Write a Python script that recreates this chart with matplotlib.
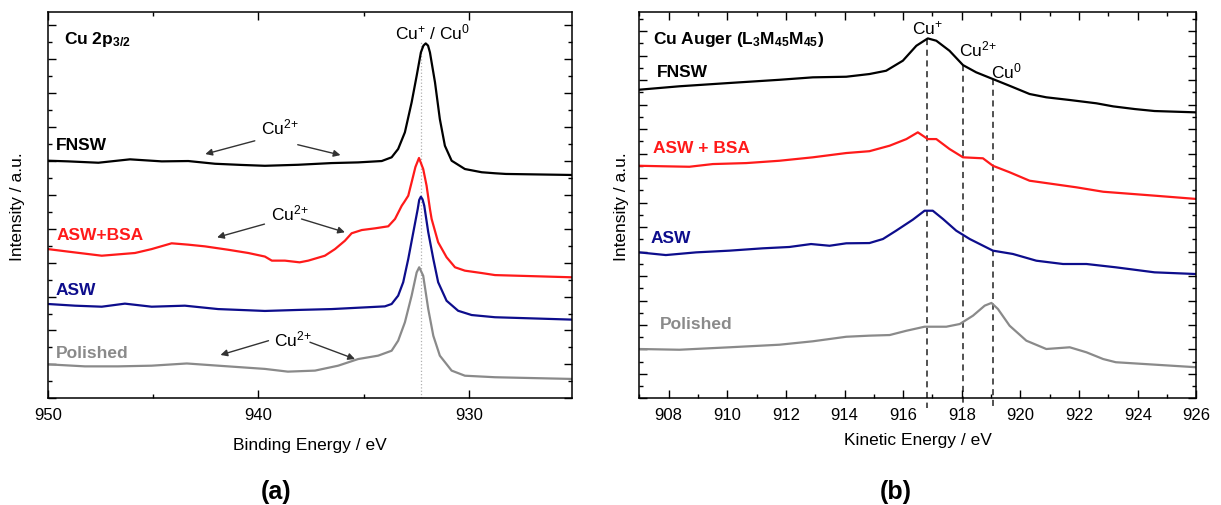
import matplotlib
matplotlib.use('Agg')
import numpy as np
import matplotlib.pyplot as plt
from matplotlib.ticker import MultipleLocator

plt.rcParams['font.family'] = ['Liberation Sans', 'DejaVu Sans']
plt.rcParams['mathtext.fontset'] = 'custom'
plt.rcParams['mathtext.rm'] = 'Liberation Sans'
plt.rcParams['mathtext.it'] = 'Liberation Sans:italic'
plt.rcParams['mathtext.bf'] = 'Liberation Sans:bold'

# ---------------- Panel (a): Cu 2p3/2, binding energy (eV) ----------------
be_fnsw = [950.0, 949.03, 947.6, 946.1, 944.59, 943.33, 942.06, 940.79, 939.69, 938.11,
           936.52, 935.26, 934.14, 933.67, 933.36, 933.04, 932.72, 932.48, 932.28, 932.16,
           932.05, 931.94, 931.85, 931.61, 931.38, 931.14, 930.82, 930.19, 929.39, 928.76,
           928.24, 925.1]
i_fnsw_a = [13.99, 13.95, 13.87, 14.07, 13.95, 13.97, 13.81, 13.74, 13.69, 13.75,
            13.85, 13.89, 13.97, 14.19, 14.68, 15.66, 17.42, 18.99, 20.36, 20.76,
            20.89, 20.76, 20.36, 18.6, 16.44, 14.87, 13.99, 13.5, 13.31, 13.25,
            13.21, 13.15]

be_bsa = [950.0, 949.03, 947.44, 945.86, 945.07, 944.12, 943.33, 942.54, 941.43, 940.48,
          939.69, 939.36, 938.74, 938.04, 937.63, 936.84, 936.36, 935.89, 935.57, 935.09,
          934.46, 933.83, 933.51, 933.19, 933.07, 932.88, 932.72, 932.54, 932.37, 932.17,
          932.01, 931.85, 931.77, 931.46, 931.06, 930.66, 930.19, 929.39, 928.76, 925.1]
i_bsa_a = [8.79, 8.64, 8.4, 8.56, 8.79, 9.13, 9.05, 8.95, 8.75, 8.56,
           8.35, 8.11, 8.11, 8.01, 8.11, 8.4, 8.79, 9.28, 9.72, 9.91,
           10.01, 10.13, 10.56, 11.34, 11.56, 11.93, 12.72, 13.62, 14.15, 13.5,
           12.52, 11.15, 10.56, 9.19, 8.31, 7.72, 7.52, 7.38, 7.26, 7.13]

be_asw = [950.0, 948.71, 947.44, 946.34, 945.07, 943.49, 941.91, 940.48, 939.69, 938.11,
          936.52, 935.26, 933.99, 933.67, 933.36, 933.12, 932.88, 932.64, 932.43, 932.36,
          932.28, 932.2, 932.12, 931.93, 931.69, 931.46, 931.06, 930.51, 929.87, 928.76,
          925.1]
i_asw_a = [5.56, 5.46, 5.4, 5.58, 5.4, 5.46, 5.26, 5.19, 5.15, 5.21,
           5.26, 5.34, 5.42, 5.56, 6.05, 6.84, 8.21, 9.78, 11.15, 11.68,
           11.87, 11.71, 11.34, 9.78, 8.21, 6.84, 5.75, 5.16, 4.91, 4.78,
           4.64]

be_pol = [950.0, 948.24, 946.66, 945.07, 943.4, 941.91, 939.69, 938.6, 937.31, 936.21,
          935.26, 934.31, 933.67, 933.36, 933.04, 932.72, 932.48, 932.36, 932.17, 931.93,
          931.69, 931.38, 930.82, 930.19, 928.76, 925.1]
i_pol_a = [2.01, 1.89, 1.89, 1.93, 2.06, 1.93, 1.74, 1.58, 1.64, 1.93,
           2.32, 2.52, 2.81, 3.4, 4.48, 6.05, 7.42, 7.72, 7.22, 5.26,
           3.69, 2.52, 1.64, 1.34, 1.25, 1.15]

cu_main_be = 932.26  # Cu+ / Cu0 main line

# ---------------- Panel (b): Cu LMM Auger, kinetic energy (eV) ----------------
ke_fnsw = [907.0, 908.37, 910.08, 911.78, 912.92, 914.06, 914.85, 915.42, 915.99, 916.45,
           916.84, 917.13, 917.58, 918.04, 918.49, 919.06, 919.63, 920.31, 920.88, 921.68,
           922.59, 923.16, 923.9, 924.57, 926.0]
i_fnsw_b = [25.21, 25.49, 25.76, 26.02, 26.22, 26.27, 26.49, 26.76, 27.58, 28.8,
            29.4, 29.21, 28.39, 27.22, 26.63, 26.08, 25.53, 24.86, 24.59, 24.37,
            24.1, 23.85, 23.63, 23.47, 23.36]

ke_bsa = [907.0, 907.8, 908.71, 909.51, 910.65, 911.78, 912.92, 914.06, 914.85, 915.54,
          916.11, 916.5, 916.84, 917.13, 917.58, 918.04, 918.72, 919.06, 919.63, 920.31,
          921.11, 921.91, 922.82, 924.57, 926.0]
i_bsa_b = [19.0, 18.96, 18.92, 19.14, 19.22, 19.41, 19.69, 20.04, 20.19, 20.64,
           21.18, 21.73, 21.18, 21.18, 20.37, 19.69, 19.61, 19.0, 18.47, 17.78,
           17.51, 17.24, 16.88, 16.56, 16.29]

ke_asw = [907.0, 907.91, 908.94, 910.08, 911.21, 912.12, 912.86, 913.49, 914.06, 914.85,
          915.31, 915.76, 916.33, 916.73, 917.01, 917.36, 917.81, 918.27, 919.06, 919.74,
          920.54, 921.45, 922.25, 923.25, 924.57, 926.0]
i_asw_b = [11.93, 11.71, 11.93, 12.07, 12.26, 12.37, 12.61, 12.47, 12.67, 12.69,
           13.02, 13.7, 14.6, 15.33, 15.33, 14.65, 13.7, 13.02, 12.07, 11.8,
           11.25, 10.98, 10.98, 10.71, 10.3, 10.16]

ke_pol = [907.0, 908.37, 910.08, 911.78, 912.92, 914.06, 914.85, 915.54, 916.11, 916.73,
          917.47, 917.93, 918.38, 918.78, 919.01, 919.23, 919.63, 920.2, 920.88, 921.68,
          922.25, 922.82, 923.25, 926.0]
i_pol_b = [4.04, 3.98, 4.18, 4.39, 4.67, 5.04, 5.13, 5.18, 5.53, 5.86,
           5.86, 6.08, 6.76, 7.58, 7.8, 7.31, 5.94, 4.72, 4.04, 4.18,
           3.77, 3.22, 2.96, 2.55]

auger_lines_ke = [916.8, 918.05, 919.06]   # Cu+, Cu2+, Cu0
auger_line_names = [r'Cu$^{+}$', r'Cu$^{2{+}}$', r'Cu$^{0}$']

# ---------------- Styles ----------------
c_black = '#000000'
c_red = '#ff1a1a'
c_blue = '#0d0d8c'
c_gray = '#8a8a8a'
lw = 1.6

fig = plt.figure(figsize=(12.21, 5.06), dpi=100)
ax1 = fig.add_axes([0.0392, 0.2105, 0.4293, 0.7632])
ax2 = fig.add_axes([0.5235, 0.2105, 0.4564, 0.7632])

for ax in (ax1, ax2):
    ax.tick_params(which='both', direction='in', top=True, right=True,
                   labelleft=False, labelsize=12, width=1.0, pad=6)
    ax.tick_params(which='major', length=6)
    ax.tick_params(which='minor', length=3)
    for s in ax.spines.values():
        s.set_linewidth(1.1)
    ax.yaxis.set_major_locator(MultipleLocator(2))
    ax.yaxis.set_minor_locator(MultipleLocator(1))

# ----- Panel (a)
ax1.plot([cu_main_be, cu_main_be], [0, 21.05], color='#b0b0b0', lw=0.9, ls=':', zorder=1)
ax1.plot(be_fnsw, i_fnsw_a, color=c_black, lw=lw)
ax1.plot(be_bsa, i_bsa_a, color=c_red, lw=lw)
ax1.plot(be_asw, i_asw_a, color=c_blue, lw=lw)
ax1.plot(be_pol, i_pol_a, color=c_gray, lw=lw)
ax1.set_xlim(950, 925.1)
ax1.set_ylim(0, 22.72)
ax1.xaxis.set_major_locator(MultipleLocator(10))
ax1.xaxis.set_minor_locator(MultipleLocator(5))
ax1.set_xlabel('Binding Energy / eV', fontsize=12.5, labelpad=11)
ax1.text(-0.057, 0.5, 'Intensity / a.u.', transform=ax1.transAxes, rotation=90,
         ha='center', va='center', fontsize=12.5)

ax1.text(0.031, 0.957, r'Cu 2p$_{\mathbf{3/2}}$', transform=ax1.transAxes,
         fontsize=12.5, fontweight='bold', ha='left', va='top')
ax1.text(931.73, 21.19, r'Cu$^{+}$ / Cu$^{0}$', fontsize=12.5, ha='center', va='baseline')

lab_kw = dict(transform=ax1.transAxes, fontsize=12.5, fontweight='bold', ha='left', va='center')
ax1.text(0.016, 0.658, 'FNSW', color=c_black, **lab_kw)
ax1.text(0.016, 0.425, 'ASW+BSA', color=c_red, **lab_kw)
ax1.text(0.014, 0.281, 'ASW', color=c_blue, **lab_kw)
ax1.text(0.016, 0.120, 'Polished', color=c_gray, **lab_kw)

arrow_kw = dict(arrowstyle='-|>', color='#333333', lw=1.0, mutation_scale=10,
                shrinkA=0, shrinkB=0)
cu2_text_pos = [(938.97, 16.03), (938.5, 10.97), (938.36, 3.56)]
cu2_left_arrows = [((940.17, 15.16), (942.52, 14.38)),
                   ((939.71, 10.26), (941.96, 9.48)),
                   ((939.52, 3.40), (941.8, 2.56))]
cu2_right_arrows = [((938.13, 14.93), (936.1, 14.32)),
                    ((937.95, 10.56), (935.89, 9.78)),
                    ((937.55, 3.31), (935.41, 2.32))]
for (tx, ty), la, ra in zip(cu2_text_pos, cu2_left_arrows, cu2_right_arrows):
    ax1.text(tx, ty, r'Cu$^{2{+}}$', fontsize=12.5, ha='center', va='center')
    ax1.annotate('', xy=la[1], xytext=la[0], arrowprops=arrow_kw)
    ax1.annotate('', xy=ra[1], xytext=ra[0], arrowprops=arrow_kw)

# ----- Panel (b)
ax2.plot(ke_fnsw, i_fnsw_b, color=c_black, lw=lw)
ax2.plot(ke_bsa, i_bsa_b, color=c_red, lw=lw)
ax2.plot(ke_asw, i_asw_b, color=c_blue, lw=lw)
ax2.plot(ke_pol, i_pol_b, color=c_gray, lw=lw)
ax2.set_xlim(907, 926)
ax2.set_ylim(0, 31.53)
ax2.xaxis.set_major_locator(MultipleLocator(2))
ax2.xaxis.set_minor_locator(MultipleLocator(1))
ax2.set_xlabel('Kinetic Energy / eV', fontsize=12.5, labelpad=7)
ax2.text(-0.031, 0.5, 'Intensity / a.u.', transform=ax2.transAxes, rotation=90,
         ha='center', va='center', fontsize=12.5)

tops = np.interp(auger_lines_ke, ke_fnsw, i_fnsw_b)
for ke, top in zip(auger_lines_ke, tops):
    ax2.plot([ke, ke], [top, -0.8], color='#222222', lw=1.1, ls=(0, (4, 3)),
             clip_on=False, zorder=1)

label_pos = [(916.83, 29.81, 'center'), (917.9, 27.98, 'left'), (919.01, 26.22, 'left')]
for (lx, ly, ha), name in zip(label_pos, auger_line_names):
    ax2.text(lx, ly, name, fontsize=12.5, ha=ha, va='baseline')

ax2.text(0.025, 0.957, r'Cu Auger (L$_\mathbf{3}$M$_\mathbf{45}$M$_\mathbf{45}$)',
         transform=ax2.transAxes, fontsize=12.5, fontweight='bold', ha='left', va='top')
lab_kw2 = dict(transform=ax2.transAxes, fontsize=12.5, fontweight='bold', ha='left', va='center')
ax2.text(0.031, 0.847, 'FNSW', color=c_black, **lab_kw2)
ax2.text(0.025, 0.649, 'ASW + BSA', color=c_red, **lab_kw2)
ax2.text(0.021, 0.416, 'ASW', color=c_blue, **lab_kw2)
ax2.text(0.037, 0.194, 'Polished', color=c_gray, **lab_kw2)

fig.text(0.226, 0.028, '(a)', fontsize=18, fontweight='bold', ha='center', va='center')
fig.text(0.734, 0.028, '(b)', fontsize=18, fontweight='bold', ha='center', va='center')

fig.savefig('out.png', dpi=100)
